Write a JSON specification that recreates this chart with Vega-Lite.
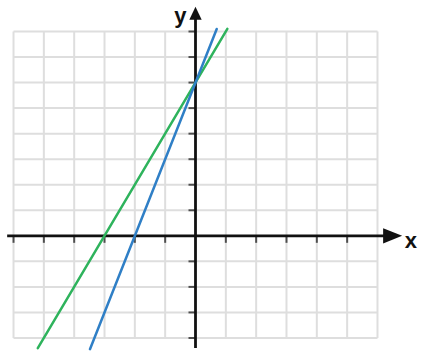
{
  "$schema": "https://vega.github.io/schema/vega-lite/v6.json",
  "width": 421,
  "height": 355,
  "autosize": {"type": "fit", "contains": "padding"},
  "padding": 0,
  "background": "white",
  "config": {"view": {"stroke": null}},
  "encoding": {
    "x": {"field": "x", "type": "quantitative", "scale": {"domain": [-6.446, 7.435], "nice": false, "zero": false}, "axis": null},
    "y": {"field": "y", "type": "quantitative", "scale": {"domain": [-4.51, 9.233], "nice": false, "zero": false}, "axis": null}
  },
  "layer": [
    {
      "data": {"values": [
        {"x": -6, "y": -4, "x2": -6, "y2": 8},
        {"x": -5, "y": -4, "x2": -5, "y2": 8},
        {"x": -4, "y": -4, "x2": -4, "y2": 8},
        {"x": -3, "y": -4, "x2": -3, "y2": 8},
        {"x": -2, "y": -4, "x2": -2, "y2": 8},
        {"x": -1, "y": -4, "x2": -1, "y2": 8},
        {"x": 1, "y": -4, "x2": 1, "y2": 8},
        {"x": 2, "y": -4, "x2": 2, "y2": 8},
        {"x": 3, "y": -4, "x2": 3, "y2": 8},
        {"x": 4, "y": -4, "x2": 4, "y2": 8},
        {"x": 5, "y": -4, "x2": 5, "y2": 8},
        {"x": 6, "y": -4, "x2": 6, "y2": 8},
        {"x": -6, "y": -4, "x2": 6, "y2": -4},
        {"x": -6, "y": -3, "x2": 6, "y2": -3},
        {"x": -6, "y": -2, "x2": 6, "y2": -2},
        {"x": -6, "y": -1, "x2": 6, "y2": -1},
        {"x": -6, "y": 1, "x2": 6, "y2": 1},
        {"x": -6, "y": 2, "x2": 6, "y2": 2},
        {"x": -6, "y": 3, "x2": 6, "y2": 3},
        {"x": -6, "y": 4, "x2": 6, "y2": 4},
        {"x": -6, "y": 5, "x2": 6, "y2": 5},
        {"x": -6, "y": 6, "x2": 6, "y2": 6},
        {"x": -6, "y": 7, "x2": 6, "y2": 7},
        {"x": -6, "y": 8, "x2": 6, "y2": 8}
      ]},
      "mark": {"type": "rule", "color": "#dedede", "strokeWidth": 2},
      "encoding": {"x2": {"field": "x2"}, "y2": {"field": "y2"}}
    },
    {
      "data": {"values": [
        {"x": -6.21, "y": 0, "x2": 6.45, "y2": 0},
        {"x": 0, "y": -4.39, "x2": 0, "y2": 8.6}
      ]},
      "mark": {"type": "rule", "color": "#111111", "strokeWidth": 2.8},
      "encoding": {"x2": {"field": "x2"}, "y2": {"field": "y2"}}
    },
    {
      "data": {"values": [
        {"x": -6, "y": 0}, {"x": -5, "y": 0}, {"x": -4, "y": 0}, {"x": -3, "y": 0},
        {"x": -2, "y": 0}, {"x": -1, "y": 0}, {"x": 1, "y": 0}, {"x": 2, "y": 0},
        {"x": 3, "y": 0}, {"x": 4, "y": 0}, {"x": 5, "y": 0}
      ]},
      "mark": {"type": "tick", "orient": "vertical", "color": "#111111", "size": 7, "thickness": 2, "yOffset": 3.5}
    },
    {
      "data": {"values": [
        {"x": 0, "y": -4}, {"x": 0, "y": -3}, {"x": 0, "y": -2}, {"x": 0, "y": -1},
        {"x": 0, "y": 1}, {"x": 0, "y": 2}, {"x": 0, "y": 3}, {"x": 0, "y": 4},
        {"x": 0, "y": 5}, {"x": 0, "y": 6}, {"x": 0, "y": 7}, {"x": 0, "y": 8}
      ]},
      "mark": {"type": "tick", "orient": "horizontal", "color": "#111111", "size": 7, "thickness": 2, "xOffset": -3.5}
    },
    {
      "data": {"values": [
        {"line": "green", "x": -5.2, "y": -4.4},
        {"line": "green", "x": 1.05, "y": 8.1},
        {"line": "blue", "x": -3.48, "y": -4.44},
        {"line": "blue", "x": 0.7, "y": 8.1}
      ]},
      "mark": {"type": "line", "strokeWidth": 2.5, "strokeCap": "round"},
      "encoding": {
        "color": {"field": "line", "type": "nominal", "scale": {"domain": ["green", "blue"], "range": ["#2eb35c", "#2f7fc6"]}, "legend": null}
      }
    },
    {
      "data": {"values": [{"x": 6.5, "y": 0}]},
      "mark": {"type": "point", "shape": "M-1,-0.8L1,0L-1,0.8Z", "size": 361, "filled": true, "color": "#111111", "opacity": 1}
    },
    {
      "data": {"values": [{"x": 0, "y": 8.71}]},
      "mark": {"type": "point", "shape": "M-0.95,1L0,-1L0.95,1Z", "size": 169, "filled": true, "color": "#111111", "opacity": 1}
    },
    {
      "data": {"values": [
        {"x": 7.1, "y": -0.22, "label": "x"},
        {"x": -0.5, "y": 8.6, "label": "y"}
      ]},
      "mark": {"type": "text", "font": "Liberation Sans", "fontSize": 22, "fontWeight": "bold", "color": "#111111", "align": "center", "baseline": "middle"},
      "encoding": {"text": {"field": "label"}}
    }
  ]
}
